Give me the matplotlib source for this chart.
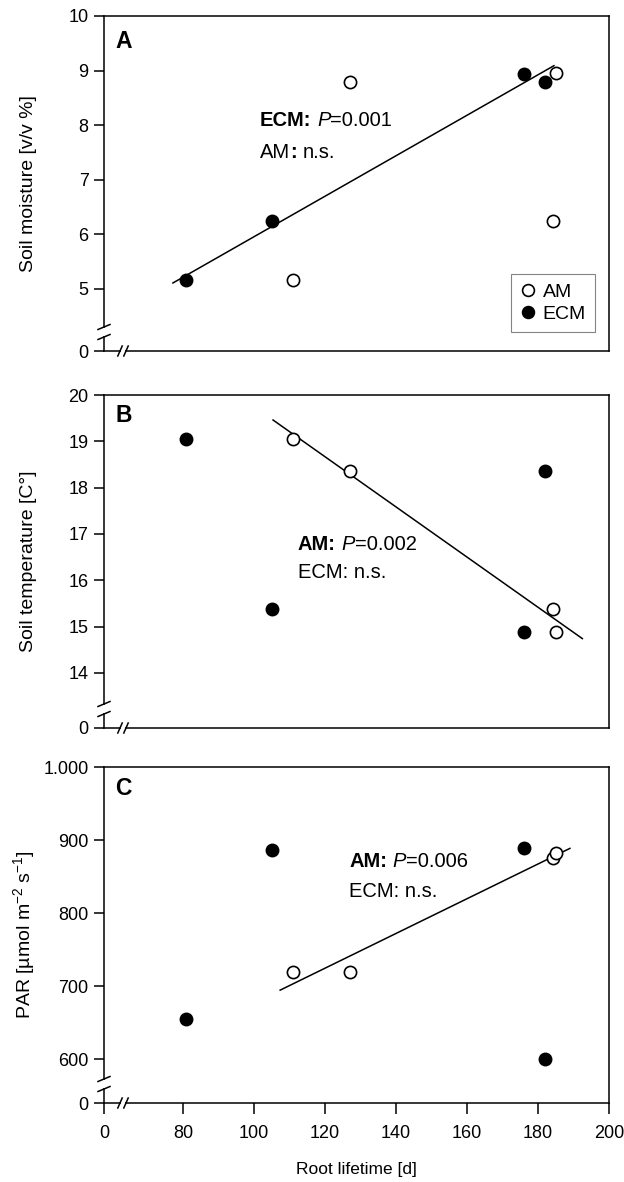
import numpy as np
import matplotlib
matplotlib.use('Agg')
import matplotlib.pyplot as plt
from matplotlib.lines import Line2D
from matplotlib.ticker import FixedLocator, FixedFormatter, NullLocator

plt.rcParams['font.family'] = ['Liberation Sans', 'DejaVu Sans']
plt.rcParams['mathtext.fontset'] = 'custom'
plt.rcParams['mathtext.rm'] = 'Liberation Sans'
plt.rcParams['mathtext.it'] = 'Liberation Sans:italic'
plt.rcParams['mathtext.bf'] = 'Liberation Sans:bold'

# ---------------- data ----------------
am_lifetime = [111.1, 127.1, 184.1, 185.0]
ecm_lifetime = [81.0, 105.1, 176.0, 182.0]

am_moisture = [5.16, 8.80, 6.245, 8.95]
ecm_moisture = [5.16, 6.245, 8.94, 8.80]

am_temp = [19.06, 18.35, 15.39, 14.88]
ecm_temp = [19.06, 15.39, 14.88, 18.35]

am_par = [720.0, 720.0, 875.8, 882.6]
ecm_par = [655.0, 886.0, 889.0, 600.5]

# regression lines (endpoints)
fit_a_x = [77.2, 184.5]
fit_a_y = [5.11, 9.09]
fit_b_x = [105.4, 192.5]
fit_b_y = [19.46, 14.74]
fit_c_x = [107.4, 189.0]
fit_c_y = [694.5, 888.6]

x_ticks = [0, 80, 100, 120, 140, 160, 180, 200]
x_ticklabels = ['0', '80', '100', '120', '140', '160', '180', '200']
ya_ticks = [0, 5, 6, 7, 8, 9, 10]
ya_labels = ['0', '5', '6', '7', '8', '9', '10']
yb_ticks = [0, 14, 15, 16, 17, 18, 19, 20]
yb_labels = ['0', '14', '15', '16', '17', '18', '19', '20']
yc_ticks = [0, 600, 700, 800, 900, 1000]
yc_labels = ['0', '600', '700', '800', '900', '1.000']

W, H = 624, 1182


def brk(z0, b):
    def fwd(v):
        v = np.asarray(v, float)
        return np.where(v >= b, v, z0 + (b - z0) * v / b)

    def inv(z):
        z = np.asarray(z, float)
        return np.where(z >= b, z, (z - z0) * b / (b - z0))
    return fwd, inv


fig = plt.figure(figsize=(W / 100, H / 100), dpi=100)
left = 104 / W
width = (609 - 104) / W
axA = fig.add_axes([left, 1 - 351 / H, width, 335 / H])
axB = fig.add_axes([left, 1 - 728 / H, width, 333 / H])
axC = fig.add_axes([left, 1 - 1103 / H, width, 336 / H])

LW = 1.1
MS = 8.8
TICKFS = 13
LABFS = 14
ANNFS = 14.5


def style(ax, yt, yl, z0, b, ylim, show_x, label_y):
    ax.set_xscale('function', functions=brk(57.8, 70))
    ax.set_yscale('function', functions=brk(z0, b))
    ax.set_xlim(0, 200)
    ax.set_ylim(*ylim)
    ax.yaxis.set_major_locator(FixedLocator(yt))
    ax.yaxis.set_major_formatter(FixedFormatter(yl))
    ax.yaxis.set_minor_locator(NullLocator())
    ax.xaxis.set_minor_locator(NullLocator())
    for s in ax.spines.values():
        s.set_linewidth(LW)
    ax.tick_params(axis='y', direction='out', length=7, width=LW, pad=4, labelsize=TICKFS)
    if show_x:
        ax.xaxis.set_major_locator(FixedLocator(x_ticks))
        ax.xaxis.set_major_formatter(FixedFormatter(x_ticklabels))
        ax.tick_params(axis='x', direction='out', length=8, width=LW, pad=8, labelsize=TICKFS)
    else:
        ax.xaxis.set_major_locator(FixedLocator([]))
    ax.yaxis.set_label_coords(-0.132, label_y)
    # break marks
    pos = ax.get_position()
    wpx = pos.width * W
    hpx = pos.height * H
    # y-axis break
    ax.plot([0, 0], [15 / hpx, 23 / hpx], transform=ax.transAxes, color='white',
            lw=3, clip_on=False, zorder=5, solid_capstyle='butt')
    for d in (14, 24):
        ax.plot([-6 / wpx, 6 / wpx], [(d - 2.5) / hpx, (d + 2.5) / hpx],
                transform=ax.transAxes, color='black', lw=LW, clip_on=False, zorder=6)
    # x-axis break
    ax.plot([17 / wpx, 21 / wpx], [0, 0], transform=ax.transAxes, color='white',
            lw=3, clip_on=False, zorder=5, solid_capstyle='butt')
    for d in (16, 22):
        ax.plot([(d - 2.2) / wpx, (d + 2.2) / wpx], [-5 / hpx, 5 / hpx],
                transform=ax.transAxes, color='black', lw=LW, clip_on=False, zorder=6)


def points(ax, am_y, ecm_y):
    ax.plot(am_lifetime, am_y, 'o', ms=MS, mfc='white', mec='black', mew=1.2,
            ls='none', zorder=4, clip_on=False)
    ax.plot(ecm_lifetime, ecm_y, 'o', ms=MS, mfc='black', mec='black', mew=1.2,
            ls='none', zorder=4, clip_on=False)


def rich(ax, x, y, parts, fs=ANNFS):
    """parts: list of (text, weight, style, gap_before_in_em)"""
    txt, w, st, _ = parts[0]
    prev = ax.text(x, y, txt, fontsize=fs, fontweight=w, fontstyle=st,
                   va='center', ha='left')
    for txt, w, st, gap in parts[1:]:
        prev = ax.annotate(txt, xy=(1, 0), xycoords=prev,
                           xytext=(gap * fs, 0), textcoords='offset points',
                           fontsize=fs, fontweight=w, fontstyle=st,
                           va='bottom', ha='left')


# ---- Panel A ----
style(axA, ya_ticks, ya_labels, 3.864, 4.5, (0, 10), False, 0.516)
axA.plot(fit_a_x, fit_a_y, color='black', lw=1.1, zorder=3)
points(axA, am_moisture, ecm_moisture)
axA.set_ylabel('Soil moisture [v/v %]', fontsize=LABFS)
axA.text(0.022, 0.925, 'A', transform=axA.transAxes, fontsize=16.5, fontweight='bold',
         va='center', ha='left')
rich(axA, 101.7, 8.08, [('ECM:', 'bold', 'normal', 0), ('P', 'normal', 'italic', 0.28),
                        ('=0.001', 'normal', 'normal', 0)])
rich(axA, 101.7, 7.50, [('AM', 'normal', 'normal', 0), (':', 'bold', 'normal', 0.02),
                        ('n.s.', 'normal', 'normal', 0.26)])
h_am = Line2D([], [], marker='o', ls='none', ms=8.5, mfc='white', mec='black', mew=1.2)
h_ecm = Line2D([], [], marker='o', ls='none', ms=8.5, mfc='black', mec='black', mew=1.2)
leg = axA.legend([h_am, h_ecm], ['AM', 'ECM'], loc='lower right',
                 bbox_to_anchor=(0.972, 0.057), fontsize=14, frameon=True,
                 fancybox=False, edgecolor='#666666', handlelength=0.9,
                 handletextpad=0.3, borderpad=0.45, labelspacing=0.25,
                 borderaxespad=0)
leg.get_frame().set_linewidth(0.8)

# ---- Panel B ----
style(axB, yb_ticks, yb_labels, 12.81, 13.5, (0, 20), False, 0.559)
axB.plot(fit_b_x, fit_b_y, color='black', lw=1.1, zorder=3)
points(axB, am_temp, ecm_temp)
axB.set_ylabel('Soil temperature [C°]', fontsize=LABFS)
axB.text(0.022, 0.937, 'B', transform=axB.transAxes, fontsize=16.5, fontweight='bold',
         va='center', ha='left')
rich(axB, 112.4, 16.78, [('AM:', 'bold', 'normal', 0), ('P', 'normal', 'italic', 0.28),
                         ('=0.002', 'normal', 'normal', 0)])
axB.text(112.4, 16.16, 'ECM: n.s.', fontsize=ANNFS, va='center', ha='left')

# ---- Panel C ----
style(axC, yc_ticks, yc_labels, 540, 570, (0, 1000), True, 0.494)
axC.plot(fit_c_x, fit_c_y, color='black', lw=1.1, zorder=3)
points(axC, am_par, ecm_par)
axC.set_ylabel(r'PAR [µmol m$^{-2}$ s$^{-1}$]', fontsize=LABFS)
axC.set_xlabel('Root lifetime [d]', fontsize=12.5, labelpad=14)
axC.text(0.022, 0.935, 'C', transform=axC.transAxes, fontsize=16.5, fontweight='bold',
         va='center', ha='left')
rich(axC, 126.8, 870, [('AM:', 'bold', 'normal', 0), ('P', 'normal', 'italic', 0.28),
                       ('=0.006', 'normal', 'normal', 0)])
axC.text(126.8, 829, 'ECM: n.s.', fontsize=ANNFS, va='center', ha='left')

fig.savefig('out.png', dpi=100)
